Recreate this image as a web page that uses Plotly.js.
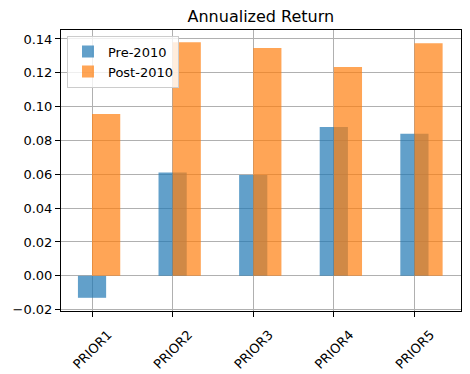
<!DOCTYPE html>
<html>
<head>
<meta charset="utf-8">
<script src="https://cdn.plot.ly/plotly-3.0.1.min.js"></script>
<style>html,body{margin:0;padding:0;background:#fff;}#chart{width:470px;height:374px;}</style>
</head>
<body>
<div id="chart"></div>
<script>
const categories = ["PRIOR1", "PRIOR2", "PRIOR3", "PRIOR4", "PRIOR5"];
const preValues = [-0.013, 0.061, 0.0596, 0.088, 0.084];
const postValues = [0.0957, 0.138, 0.1346, 0.1235, 0.1375];
const yTicks = [-0.02, 0, 0.02, 0.04, 0.06, 0.08, 0.10, 0.12, 0.14];

const pos = categories.map((c, i) => i);
const W = 0.35;
const font = {family: "DejaVu Sans", size: 13, color: "#000"};

const traces = [
  {type: "bar", name: "Pre-2010", x: pos, y: preValues, width: W, offset: -W/2,
   marker: {color: "rgba(31,119,180,0.7)", line: {width: 0}}},
  {type: "bar", name: "Post-2010", x: pos, y: postValues, width: W, offset: 0,
   marker: {color: "rgba(255,127,14,0.7)", line: {width: 0}}}
];

const layout = {
  width: 470, height: 374,
  margin: {l: 61, r: 9, t: 30, b: 63},
  paper_bgcolor: "#fff", plot_bgcolor: "#fff",
  barmode: "overlay",
  font: font,
  title: {text: "Annualized Return", font: {family: "DejaVu Sans", size: 16, color: "#000"},
          x: 0.555, xanchor: "center", y: 0.955, yanchor: "middle"},
  showlegend: true,
  legend: {x: 0.015, y: 0.98, xanchor: "left", yanchor: "top",
           bgcolor: "rgba(255,255,255,0.8)", bordercolor: "#cccccc", borderwidth: 1,
           font: {family: "DejaVu Sans", size: 13, color: "#000"}},
  xaxis: {
    range: [-0.385, 4.578],
    tickmode: "array", tickvals: pos, ticktext: categories,
    tickangle: -45,
    ticklabelshift: 16, ticklabelstandoff: 5,
    showgrid: true, gridcolor: "#b0b0b0", gridwidth: 1,
    zeroline: false,
    showline: true, mirror: true, linecolor: "#000", linewidth: 1,
    ticks: "outside", ticklen: 5, tickcolor: "#000", tickwidth: 1,
    tickfont: font
  },
  yaxis: {
    range: [-0.0208, 0.1453],
    tickmode: "array", tickvals: yTicks, ticktext: yTicks.map(v => (v < 0 ? "\u2212" : "") + Math.abs(v).toFixed(2)),
    showgrid: true, gridcolor: "#b0b0b0", gridwidth: 1,
    zeroline: false,
    showline: true, mirror: true, linecolor: "#000", linewidth: 1,
    ticks: "outside", ticklen: 5, tickcolor: "#000", tickwidth: 1,
    tickfont: font
  }
};

Plotly.newPlot("chart", traces, layout, {displayModeBar: false, staticPlot: true});
</script>
</body>
</html>
